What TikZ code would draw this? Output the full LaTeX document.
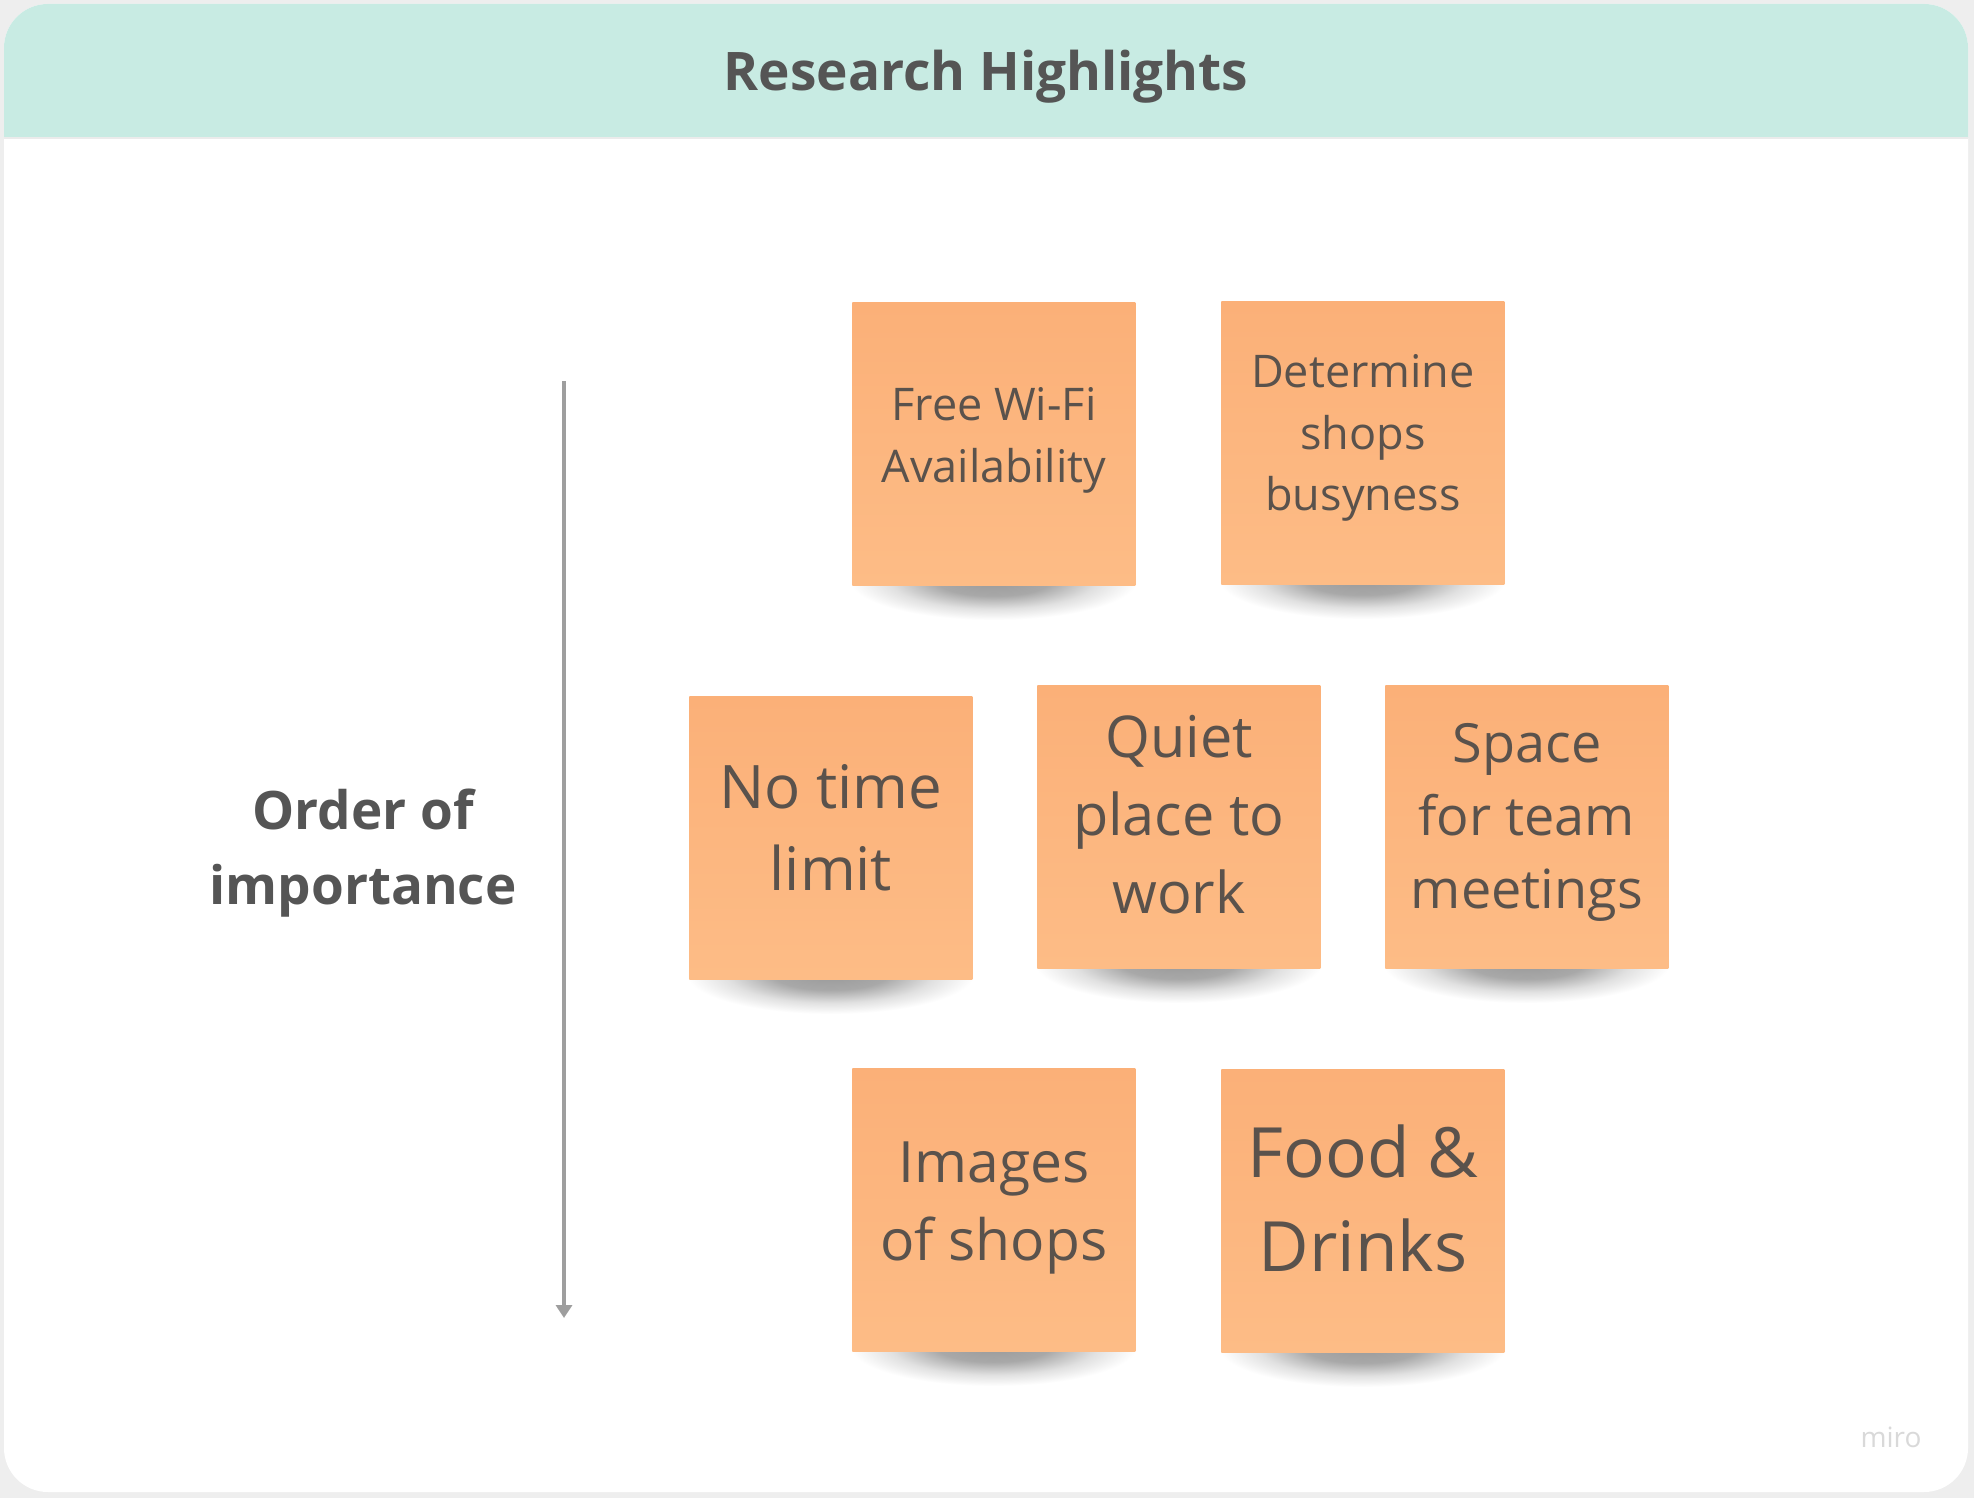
\documentclass[tikz,border=0pt]{standalone}
\usepackage{fontspec}
\setmainfont{Open Sans}
\usetikzlibrary{arrows.meta}
\definecolor{bg}{HTML}{EEEEEE}
\definecolor{head}{HTML}{C8EBE3}
\definecolor{notebot}{HTML}{FDBC86}
\definecolor{notetop}{HTML}{FBB078}
\definecolor{txt}{HTML}{555555}
\definecolor{notetxt}{HTML}{5A524C}
\definecolor{arr}{HTML}{9E9E9E}
\pgfdeclareradialshading{softshadow}{\pgfpoint{0bp}{0bp}}{color(0bp)=(black!40); color(10bp)=(black!34); color(18bp)=(black!12); color(25bp)=(white); color(50bp)=(white)}
\tikzset{
  stickynote/.style={anchor=north west, minimum width=141.5pt, minimum height=141.5pt,
    inner sep=0pt, top color=notetop, bottom color=notebot},
  notetext/.style={inner sep=0pt, align=center, text=notetxt},
  noteshadow/.style={shading=softshadow},
}
% #1 name, #2 x, #3 y, #4 font size, #5 skip, #6 text, #7 text shift (pt, up)
\newcommand\mknote[7]{%
  \shade[noteshadow] (#2+141.5,#3+278) ellipse [x radius=72pt, y radius=20pt];
  \node[stickynote] (#1) at (#2,#3) {};
  \node[notetext, font=\fontsize{#4}{#5}\selectfont, yshift=#7] (#1t) at (#1.center) {#6};
}
\begin{document}
\begin{tikzpicture}[x=0.5pt,y=-0.5pt]
\fill[bg] (0,0) rectangle (1974,1498);
\useasboundingbox (0,0) rectangle (1974,1498);
\fill[white, rounded corners=22pt] (4,4) rectangle (1968,1492);
\fill[head] (4,138) {[rounded corners=22pt] -- (4,4) -- (1968,4)} -- (1968,138) -- cycle;
\draw[black!8, line width=0.6pt] (4,138) -- (1968,138);
\node[anchor=base, text=txt, font=\bfseries\fontsize{26.6}{32}\selectfont] (title) at (986,91) {Research Highlights};

\mknote{wifi}{852}{302}{22.5}{31}{Free Wi-Fi\\Availability}{2pt}
\mknote{busy}{1221}{301}{22.5}{30.8}{Determine\\shops\\busyness}{2.5pt}
\mknote{limit}{689}{696}{30}{41}{No time\\limit}{5.3pt}
\mknote{quiet}{1037}{685}{28.8}{39}{Quiet\\place to\\work}{6pt}
\mknote{space}{1385}{685}{27}{36.5}{Space\\for team\\meetings}{2pt}
\mknote{images}{852}{1068}{28.5}{39}{Images\\of shops}{1pt}
\mknote{food}{1221}{1069}{34.7}{47}{Food \&\\Drinks}{6pt}

\node[text=txt, align=center, font=\bfseries\fontsize{26.5}{37.5}\selectfont] (order) at (363,853) {Order of\\importance};
\coordinate (atop) at (564,381);
\coordinate (abot) at (564,1318);
\draw[arr, line width=2pt, -{Triangle[length=6.5pt,width=8pt]}] (atop) -- (abot);

\node[text=black!15, font=\fontsize{14}{16}\selectfont] (miro) at (1891,1437) {miro};
\end{tikzpicture}
\end{document}
